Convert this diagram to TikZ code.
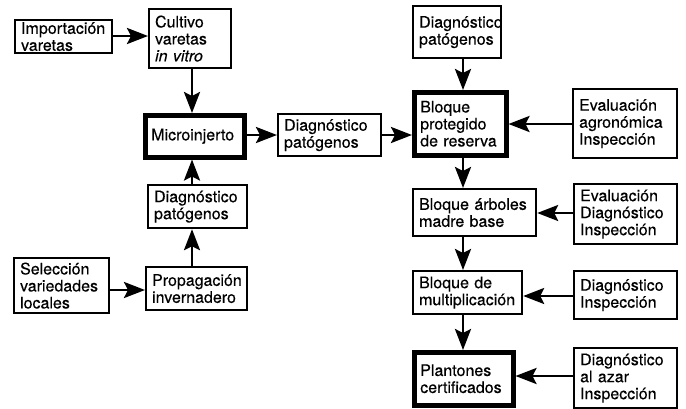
\documentclass[tikz,border=0pt]{standalone}
\usepackage{fontspec}
\setmainfont{TeX Gyre Heros}[UprightFeatures={FakeBold=0.35},ItalicFeatures={FakeBold=0.35}]
\usetikzlibrary{arrows.meta}
\tikzset{
  box/.style={draw, line width=2.2pt, inner xsep=6pt, inner ysep=1pt, align=left,
    anchor=north west, font=\fontsize{16}{17}\selectfont},
  thick box/.style={box, line width=4.5pt},
  arr/.style={line width=2.8pt, -{Stealth[length=21pt,width=16pt,inset=4pt]}},
}
\begin{document}
\begin{tikzpicture}[x=1pt,y=-1pt]
\useasboundingbox (0,0) rectangle (686,408);
% left part
\node[box, text width=85pt, minimum height=33pt] (imp) at (14,19) {Importación\\varetas};
\node[box, text width=70pt, minimum height=59pt] (cul) at (148,8) {Cultivo\\varetas\\\textit{in vitro}};
\node[thick box, text width=87pt, minimum height=42pt] (mic) at (143,113) {Microinjerto};
\node[box, text width=87pt, minimum height=43pt] (dgl) at (147,184) {Diagnóstico\\patógenos};
\node[box, text width=89pt, minimum height=43pt] (pro) at (145,266) {Propagación\\invernadero};
\node[box, text width=83pt, minimum height=55pt] (sel) at (13,257) {Selección\\variedades\\locales};
\node[box, text width=91pt, minimum height=42pt] (dgm) at (277,113) {Diagnóstico\\patógenos};
% right column
\node[box, text width=76pt, minimum height=52pt] (dgt) at (412,5) {Diagnóstico\\patógenos};
\node[thick box, text width=80pt, minimum height=63pt] (blq) at (412,90) {Bloque\\protegido\\de reserva};
\node[box, text width=92pt, minimum height=69pt] (ev1) at (572,88) {Evaluación\\agronómica\\Inspección};
\node[box, text width=111pt, minimum height=47pt] (arb) at (412,188) {Bloque árboles\\madre base};
\node[box, text width=91pt, minimum height=60pt] (ev2) at (573,183) {Evaluación\\Diagnóstico\\Inspección};
\node[box, text width=97pt, minimum height=43pt] (mul) at (412,270) {Bloque de\\multiplicación};
\node[box, text width=91pt, minimum height=48pt] (dg3) at (573,270) {Diagnóstico\\Inspección};
\node[thick box, text width=87pt, minimum height=53pt] (pla) at (412,350) {Plantones\\certificados};
\node[box, text width=91pt, minimum height=60pt] (dg4) at (573,347) {Diagnóstico\\al azar\\Inspección};
% arrows left
\coordinate (c1) at (192,0);
\coordinate (c2) at (463,0);
\draw[arr] (imp.east |- 0,36) -- (cul.west |- 0,36);
\draw[arr] (cul.south -| c1) -- (mic.north -| c1);
\draw[arr] (dgl.north -| c1) -- (mic.south -| c1);
\draw[arr] (pro.north -| c1) -- (dgl.south -| c1);
\draw[arr] (sel.east |- 0,290) -- (pro.west |- 0,290);
\draw[arr] (mic.east |- 0,135) -- (dgm.west |- 0,135);
\draw[arr] (dgm.east |- 0,135) -- (blq.west |- 0,135);
% arrows right
\draw[arr] (dgt.south -| c2) -- (blq.north -| c2);
\draw[arr] (blq.south -| c2) -- (arb.north -| c2);
\draw[arr] (arb.south -| c2) -- (mul.north -| c2);
\draw[arr] (mul.south -| c2) -- (pla.north -| c2);
\draw[arr] (ev1.west |- 0,124) -- (blq.east |- 0,124);
\draw[arr] (ev2.west |- 0,213) -- (arb.east |- 0,213);
\draw[arr] (dg3.west |- 0,296) -- (mul.east |- 0,296);
\draw[arr] (dg4.west |- 0,376) -- (pla.east |- 0,376);
\end{tikzpicture}
\end{document}
